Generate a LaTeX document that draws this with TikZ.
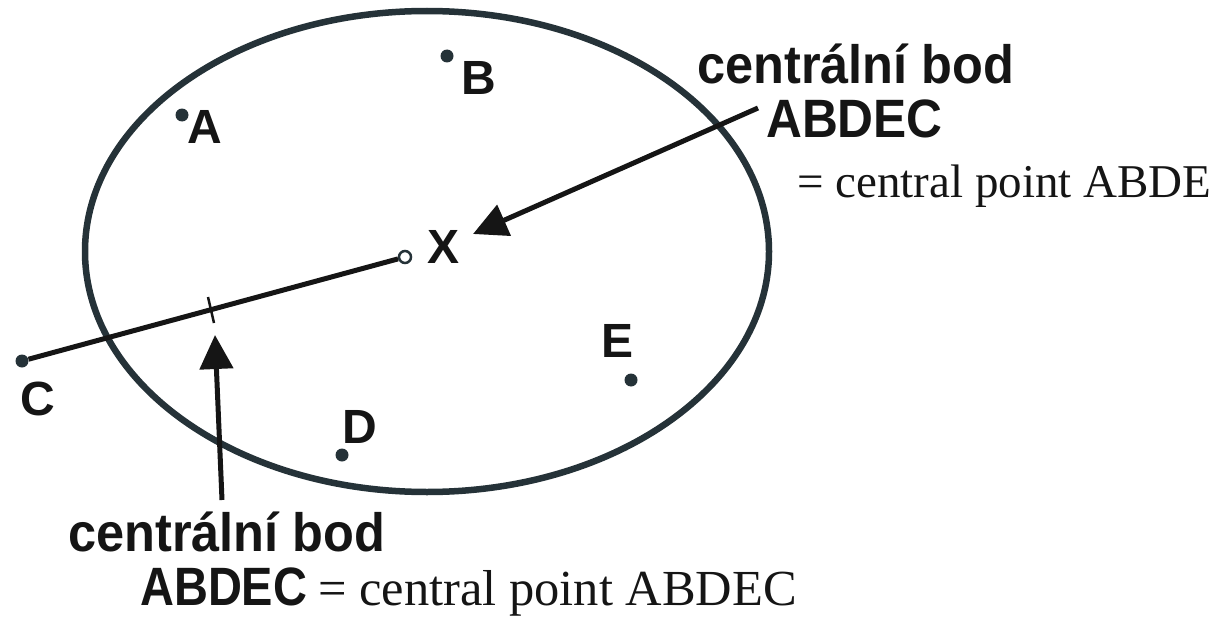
\documentclass[tikz,border=0pt]{standalone}
\usepackage{fontspec}
\setmainfont{Liberation Serif}
\newfontfamily\lblfont{Liberation Sans}
\usetikzlibrary{arrows.meta}
\definecolor{slate}{HTML}{253238}
\definecolor{ink}{HTML}{151515}
\tikzset{
  dot/.style={circle,fill=slate,inner sep=0pt,minimum size=13pt},
  odot/.style={circle,draw=slate,fill=white,line width=2.5pt,inner sep=0pt,minimum size=12pt},
  lbl/.style={inner sep=0pt,anchor=base west,text=ink,font=\lblfont\bfseries\fontsize{48}{52}\selectfont},
  big/.style={inner sep=0pt,anchor=base west,text=ink,font=\lblfont\bfseries\fontsize{54}{58}\selectfont},
  serif/.style={inner sep=0pt,anchor=base west,text=ink},
  bigarrow/.style={draw=ink,line width=5pt,-{Triangle[length=34pt,width=33pt]}},
}
\begin{document}
\begin{tikzpicture}[x=1pt,y=-1pt]
\useasboundingbox (0,0) rectangle (1227,618);
% ellipse
\draw[slate,line width=6.5pt] (427,251.5) ellipse [x radius=342pt, y radius=240.5pt];
% points
\node[dot] (A) at (182,115) {};
\node[dot] (B) at (447,56) {};
\node[dot] (C) at (22,361) {};
\node[dot] (D) at (342,455) {};
\node[dot] (E) at (631,380) {};
\node[odot] (X) at (405,257) {};
% labels
\node[lbl] (lA) at (187,143) {A};
\node[lbl] (lB) at (461,95) {B};
\node[lbl] (lX) at (427,263) {X};
\node[lbl] (lC) at (20,415) {C};
\node[lbl] (lD) at (342,443) {D};
\node[lbl] (lE) at (601,357) {E};
% line C -- X with tick
\draw[ink,line width=5pt] (C) -- (X);
\coordinate (t1) at (208,297);
\coordinate (t2) at (214,323);
\draw[ink,line width=2.5pt] (t1) -- (t2);
% top right texts
\node[big] (t1a) at (697,84) {\scalebox{0.935}[1]{centrální bod}};
\node[big] (t1b) at (766,137) {\scalebox{0.92}[1]{ABDEC}};
\node[serif,font=\fontsize{47}{50}\selectfont] (t1c) at (797,197) {= central point ABDE};
% bottom texts
\node[big] (t2a) at (68,551) {\scalebox{0.935}[1]{centrální bod}};
\node[big] (t2b) at (140,605) {\scalebox{0.87}[1]{ABDEC}};
\node[serif,font=\fontsize{50.5}{54}\selectfont] (t2c) at (318,605) {= central point ABDEC};
% arrows
\coordinate (a1s) at (758,108);
\coordinate (a1e) at (473,234);
\draw[bigarrow] (a1s) -- (a1e);
\coordinate (a2s) at (222,500);
\coordinate (a2e) at (215,335);
\draw[bigarrow] (a2s) -- (a2e);
\end{tikzpicture}
\end{document}
